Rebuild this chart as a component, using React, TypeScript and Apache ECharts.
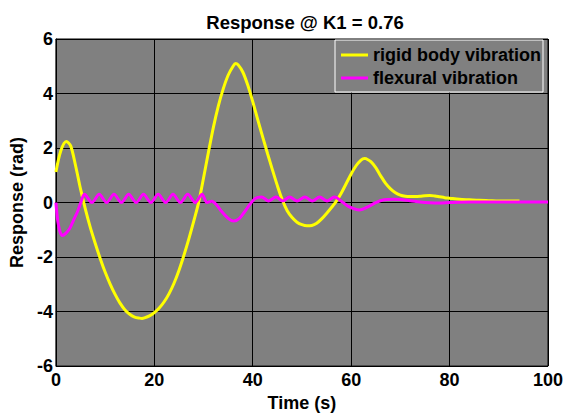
import React, { useEffect, useRef } from "react";
import * as echarts from "echarts";

const titleText = "Response @ K1 = 0.76";
const xName = "Time (s)";
const yName = "Response (rad)";
const seriesNames = ["rigid body vibration", "flexural vibration"];

const rigidT = [0, 1, 2.1, 3, 4, 5, 6, 7, 8, 9, 10, 11, 12, 13, 14, 15, 16, 17, 17.5, 18, 19, 20, 21, 22, 23, 24, 25, 26, 27, 28, 29, 30, 31, 32, 33, 34, 35, 36, 36.5, 37, 38, 39, 40, 41, 42, 43, 44, 45, 46, 47, 48, 49, 50, 51, 52, 53, 54, 55, 56, 57, 58, 59, 60, 61, 62, 62.7, 63, 64, 65, 66, 67, 68, 69, 70, 71, 72, 73, 74, 75, 76, 77, 78, 79, 80, 82, 84, 86, 88, 90, 92, 94.2];
const rigidV = [1.12, 1.9, 2.24, 2.08, 1.35, 0.5, -0.25, -0.92, -1.5, -2.05, -2.55, -2.98, -3.36, -3.68, -3.93, -4.1, -4.2, -4.24, -4.25, -4.23, -4.16, -4.04, -3.87, -3.64, -3.34, -2.96, -2.49, -1.94, -1.34, -0.69, 0, 0.9, 1.85, 2.76, 3.54, 4.17, 4.67, 5.0, 5.1, 5.06, 4.78, 4.3, 3.7, 3.05, 2.42, 1.8, 1.2, 0.62, 0.1, -0.3, -0.55, -0.72, -0.81, -0.85, -0.84, -0.76, -0.6, -0.4, -0.18, 0.05, 0.35, 0.7, 1.05, 1.35, 1.56, 1.62, 1.61, 1.5, 1.28, 0.98, 0.7, 0.5, 0.36, 0.27, 0.23, 0.22, 0.22, 0.23, 0.25, 0.26, 0.24, 0.21, 0.18, 0.16, 0.12, 0.1, 0.08, 0.07, 0.06, 0.06, 0.06];

const flexT = [0, 0.2, 0.4, 0.8, 1.3, 2, 2.8, 3.5, 4.4, 5.1, 5.8, 7.3, 8.8, 10.3, 11.8, 13.3, 14.8, 16.3, 17.8, 19.3, 20.8, 22.3, 23.8, 25.3, 26.8, 28.3, 29.7, 30.7, 31.7, 32.7, 33.7, 35, 36.1, 37.3, 38.5, 39.5, 40.5, 41.8, 43.2, 44.7, 46.1, 47.5, 49, 50.6, 52.1, 53.6, 55.1, 56.6, 58, 59.5, 61.7, 63.5, 65, 66.7, 68.5, 70, 72, 74, 76, 78, 80, 84, 90, 100];
const flexV = [0, -0.4, -0.7, -1.05, -1.21, -1.13, -0.95, -0.68, -0.33, 0.02, 0.3, 0.0, 0.3, 0.0, 0.3, 0.0, 0.3, 0.0, 0.3, 0.0, 0.3, 0.0, 0.3, 0.0, 0.3, 0.0, 0.3, 0.0, 0.05, -0.1, -0.33, -0.58, -0.68, -0.58, -0.3, -0.05, 0.15, 0.2, 0.06, 0.2, 0.06, 0.2, 0.06, 0.2, 0.06, 0.2, 0.06, 0.2, 0.05, -0.15, -0.27, -0.15, 0.0, 0.1, 0.12, 0.11, 0.07, 0.02, -0.01, -0.02, 0.0, 0.02, 0.02, 0.02];

const xTicks = { min: 0, max: 100, interval: 20 };
const yTicks = { min: -6, max: 6, interval: 2 };

const FONT = "'Liberation Sans', Arial, Helvetica, sans-serif";
const txt = (size: number) => ({ fontFamily: FONT, fontSize: size, fontWeight: "bold", color: "#000" });

export default function App() {
  const ref = useRef<HTMLDivElement>(null);
  useEffect(() => {
    if (!ref.current) return;
    const chart = echarts.init(ref.current, undefined, { renderer: "svg" });
    const rigid = rigidT.map((t, i) => [t, rigidV[i]]);
    const flex = flexT.map((t, i) => [t, flexV[i]]);
    chart.setOption({
      animation: false,
      backgroundColor: "#ffffff",
      textStyle: { fontFamily: FONT },
      title: {
        text: titleText,
        left: 300,
        top: 8,
        textAlign: "center",
        textStyle: txt(18.5),
      },
      grid: {
        left: 53,
        right: 20,
        top: 39,
        bottom: 40,
        show: true,
        backgroundColor: "#808080",
        borderColor: "#000",
        borderWidth: 1,
      },
      legend: {
        data: seriesNames,
        orient: "vertical",
        left: 335,
        top: 40,
        backgroundColor: "#808080",
        borderColor: "#ffffff",
        borderWidth: 1,
        padding: [6, 2, 5, 6],
        icon: "rect",
        itemWidth: 27,
        itemHeight: 3,
        itemGap: 5,
        textStyle: txt(18),
      },
      xAxis: {
        type: "value",
        min: xTicks.min,
        max: xTicks.max,
        interval: xTicks.interval,
        name: xName,
        nameLocation: "middle",
        nameGap: 14,
        nameTextStyle: txt(18),
        axisLine: { show: true, lineStyle: { color: "#000", width: 1 } },
        axisTick: { show: true, inside: true, length: 5, lineStyle: { color: "#000" } },
        axisLabel: { ...txt(18), margin: 5 },
        splitLine: { show: true, lineStyle: { color: "#000", width: 1 } },
      },
      yAxis: {
        type: "value",
        min: yTicks.min,
        max: yTicks.max,
        interval: yTicks.interval,
        name: yName,
        nameLocation: "middle",
        nameGap: 27,
        nameTextStyle: txt(18),
        axisLine: { show: true, lineStyle: { color: "#000", width: 1 } },
        axisTick: { show: true, inside: true, length: 5, lineStyle: { color: "#000" } },
        axisLabel: { ...txt(18), margin: 3 },
        splitLine: { show: true, lineStyle: { color: "#000", width: 1 } },
      },
      series: [
        {
          name: seriesNames[0],
          type: "line",
          data: rigid,
          showSymbol: false,
          symbol: "none",
          smooth: 0.3,
          lineStyle: { color: "#ffff00", width: 3 },
          itemStyle: { color: "#ffff00" },
        },
        {
          name: seriesNames[1],
          type: "line",
          data: flex,
          showSymbol: false,
          symbol: "none",
          smooth: 0.3,
          lineStyle: { color: "#ff00ff", width: 3 },
          itemStyle: { color: "#ff00ff" },
        },
      ],
    });
    return () => chart.dispose();
  }, []);
  return (
    <div
      ref={ref}
      style={{ position: "fixed", left: 0, top: 0, width: 568, height: 417 }}
    />
  );
}
